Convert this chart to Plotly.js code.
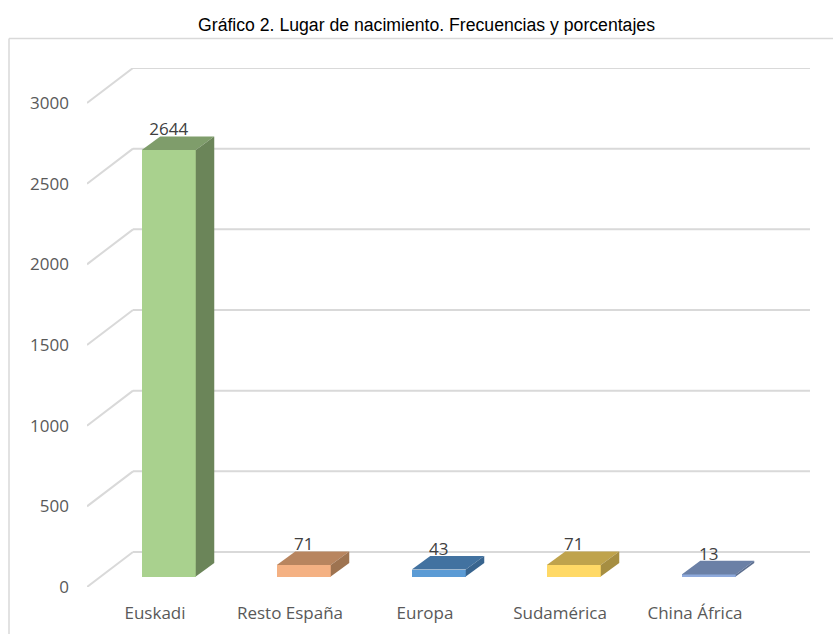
<!DOCTYPE html>
<html>
<head>
<meta charset="utf-8">
<script src="https://cdn.plot.ly/plotly-3.0.1.min.js"></script>
<style>html,body{margin:0;padding:0;background:#fff;overflow:hidden}</style>
</head>
<body>
<div id="chart" style="width:833px;height:634px"></div>
<script>
const categories = ["Euskadi", "Resto España", "Europa", "Sudamérica", "China África"];
const values = [2644, 71, 43, 71, 13];
const yTicks = [0, 500, 1000, 1500, 2000, 2500, 3000];
const frontColors = ["#A9D18E", "#F4B183", "#5B9BD5", "#FFD966", "#8FAADC"];
const topColors = ["#7F9D6B", "#B8855F", "#4272A0", "#BFA34C", "#6B80A6"];
const sideColors = ["#6B8559", "#9E7350", "#38648E", "#A68E42", "#5D6F90"];

const W = 833, H = 634;
const plot = {l: 87, r: 810, t: 68, b: 587};
const xRange = [-0.5037, 4.852], yRange = [0, 3217];
const wallDx = 0.3407, wallDy = 217;      // oblique depth of the chart floor
const barDx = 0.102, barBase = 65;        // bar position on the floor
const barW = 0.4, depthX = 0.137, depthY = 84; // bar size and depth

const xs = categories.map((c, i) => i + barDx);
const traces = [{
  type: "bar", x: xs, y: values, base: values.map(() => barBase), width: barW,
  marker: {color: frontColors, line: {width: 0}}, hoverinfo: "skip", showlegend: false
}];
values.forEach((v, i) => {
  const l = xs[i] - barW / 2, r = xs[i] + barW / 2;
  const bot = barBase, top = barBase + v;
  traces.push({type: "scatter", mode: "lines", fill: "toself", fillcolor: topColors[i],
    line: {width: 0, color: topColors[i]}, hoverinfo: "skip", showlegend: false,
    x: [l, r, r + depthX, l + depthX, l], y: [top, top, top + depthY, top + depthY, top]});
  traces.push({type: "scatter", mode: "lines", fill: "toself", fillcolor: sideColors[i],
    line: {width: 0, color: sideColors[i]}, hoverinfo: "skip", showlegend: false,
    x: [r, r + depthX, r + depthX, r, r], y: [bot, bot + depthY, top + depthY, top, bot]});
});
traces.push({type: "scatter", mode: "text", x: xs,
  y: values.map(v => v + barBase + depthY + 34), text: values.map(String),
  textposition: "middle center", textfont: {family: "Open Sans", size: 17, color: "#404040"},
  hoverinfo: "skip", showlegend: false, cliponaxis: false});

const gridShapes = [];
yTicks.forEach(t => {
  const line = {type: "line", xref: "x", yref: "y", layer: "below", line: {color: "#D9D9D9", width: 2}};
  gridShapes.push({...line, x0: xRange[0], y0: t, x1: xRange[0] + wallDx, y1: t + wallDy});
  gridShapes.push({...line, x0: xRange[0] + wallDx, y0: t + wallDy, x1: xRange[1], y1: t + wallDy});
});
const pw = plot.r - plot.l, ph = plot.b - plot.t;
const px = x => (x - plot.l) / pw, py = y => (plot.b - y) / ph;
const frame = {type: "line", xref: "paper", yref: "paper", layer: "below", line: {color: "#D9D9D9", width: 1.5}};
gridShapes.push({...frame, x0: px(9), y0: py(38.5), x1: px(W + 5), y1: py(38.5)});
gridShapes.push({...frame, x0: px(9), y0: py(38.5), x1: px(9), y1: py(H + 5)});

const layout = {
  width: W, height: H, paper_bgcolor: "#fff", plot_bgcolor: "rgba(0,0,0,0)",
  margin: {l: plot.l, r: W - plot.r, t: plot.t, b: H - plot.b, pad: 0},
  title: {text: "Gráfico 2. Lugar de nacimiento. Frecuencias y porcentajes",
    x: 426.5 / W, xanchor: "center", xref: "container", y: 1 - 25 / H, yanchor: "middle", yref: "container",
    font: {family: "Liberation Sans", size: 17.65, color: "#000"}},
  xaxis: {range: xRange, tickmode: "array", tickvals: categories.map((c, i) => i), ticktext: categories,
    showgrid: false, zeroline: false, showline: false, ticks: "", ticklabelstandoff: 14,
    tickfont: {family: "Open Sans", size: 17, color: "#595959"}, fixedrange: true},
  yaxis: {range: yRange, tickmode: "array", tickvals: yTicks, ticktext: yTicks.map(String),
    showgrid: false, zeroline: false, showline: false, ticks: "", ticklabelstandoff: 17,
    tickfont: {family: "Open Sans", size: 17, color: "#595959"}, fixedrange: true},
  shapes: gridShapes, showlegend: false, bargap: 0
};
Plotly.newPlot("chart", traces, layout, {displayModeBar: false, staticPlot: true});
</script>
</body>
</html>
